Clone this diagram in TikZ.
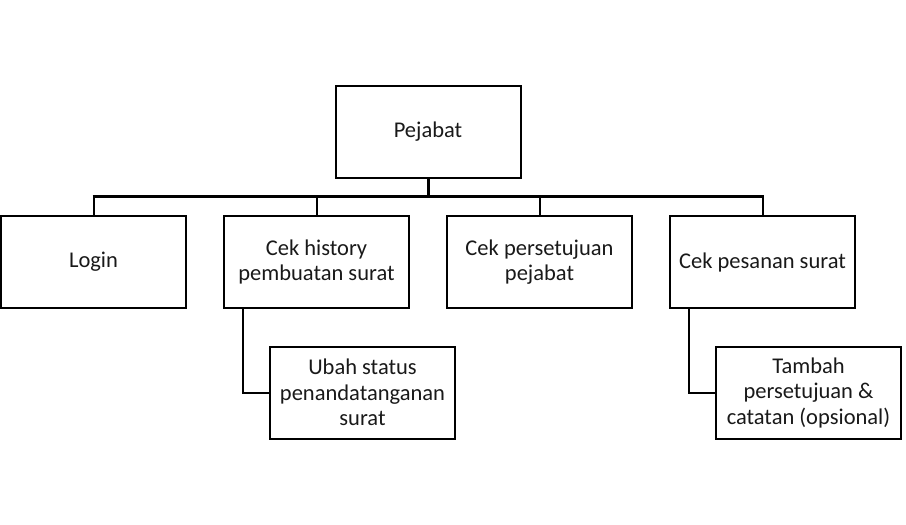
\documentclass[tikz,border=0pt]{standalone}
\usepackage{fontspec}
\setmainfont{Carlito}
\begin{document}
\begin{tikzpicture}[x=1pt,y=-1pt,
  box/.style={draw=black,line width=2pt,rectangle,minimum width=185pt,minimum height=92pt,
    align=center,inner sep=0pt,font=\fontsize{22.5pt}{25.5pt}\selectfont,text=black!90},
  bus/.style={line width=3pt},
  drop/.style={line width=2pt}]
\useasboundingbox (0,0) rectangle (906,525);
\node[box] (p) at (428,132) {Pejabat};
\node[box] (l) at (93.5,262) {Login};
\node[box] (h) at (316.5,262) {Cek history\\pembuatan surat};
\node[box] (c) at (539.5,262) {Cek persetujuan\\pejabat};
\node[box] (s) at (762.5,262) {Cek pesanan surat};
\node[box] (u) at (362.5,392.5) {Ubah status\\penandatanganan\\surat};
\node[box] (t) at (808.5,392.5) {Tambah\\persetujuan \&\\catatan (opsional)};
\coordinate (b) at (0,196);
\draw[bus] (p.south) -- (p.south |- b);
\draw[bus] ([xshift=-1pt]l.north |- b) -- ([xshift=1pt]s.north |- b);
\foreach \n in {l,h,c,s}{\draw[drop] (\n.north |- b) -- (\n.north);}
\draw[drop] ([xshift=20pt]h.south west) |- (u.west);
\draw[drop] ([xshift=20pt]s.south west) |- (t.west);
\end{tikzpicture}
\end{document}
